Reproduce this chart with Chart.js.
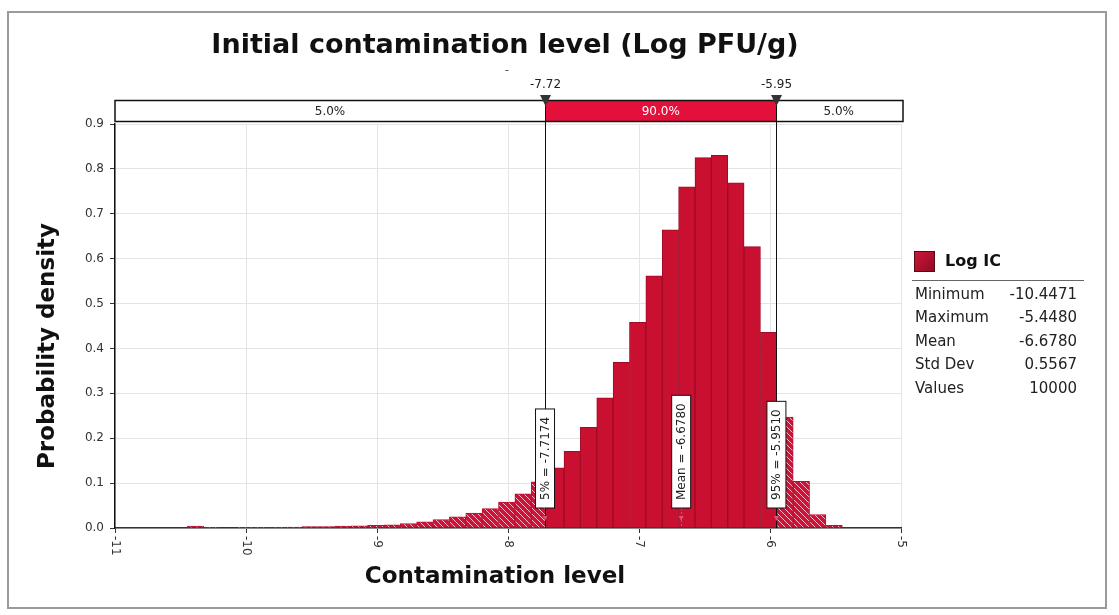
<!DOCTYPE html>
<html>
<head>
<meta charset="utf-8">
<script src="https://cdn.jsdelivr.net/npm/chart.js@4.4.1/dist/chart.umd.min.js"></script>
<style>
  html, body { margin: 0; padding: 0; background: #fff; }
  canvas { display: block; }
</style>
</head>
<body>
<canvas id="chart" width="1119" height="615"></canvas>
<script>
// histogram of Log IC, 40 bins between min and max
const binMin = -10.4471;
const binMax = -5.4480;
const density = [
  0.004, 0.0008, 0, 0.0008, 0.0008, 0.0008, 0.002, 0.003, 0.003, 0.004,
  0.005, 0.006, 0.007, 0.010, 0.014, 0.019, 0.025, 0.033, 0.043, 0.058,
  0.076, 0.103, 0.134, 0.171, 0.224, 0.290, 0.369, 0.458, 0.562, 0.664,
  0.760, 0.825, 0.830, 0.769, 0.627, 0.436, 0.247, 0.104, 0.030, 0.006
];
const xTicks = [-11, -10, -9, -8, -7, -6, -5];
const yTicks = [0, 0.1, 0.2, 0.3, 0.4, 0.5, 0.6, 0.7, 0.8, 0.9];

const pct5 = -7.7174;
const pct95 = -5.9510;
const meanVal = -6.6780;
const bandLabels = ['5.0%', '90.0%', '5.0%'];

const seriesName = 'Log IC';
const statLabels = ['Minimum', 'Maximum', 'Mean', 'Std Dev', 'Values'];
const statValues = ['-10.4471', '-5.4480', '-6.6780', '0.5567', '10000'];

const chartTitle = 'Initial contamination level (Log PFU/g)';
const xTitle = 'Contamination level';
const yTitle = 'Probability density';

const FONT = '"DejaVu Sans", Verdana, sans-serif';

const binWidth = (binMax - binMin) / density.length;
const points = density.map((d, i) => ({ x: binMin + binWidth * (i + 0.5), y: d }));

// diagonal hatch used for the tails
function makeHatch() {
  const c = document.createElement('canvas');
  c.width = 6; c.height = 6;
  const g = c.getContext('2d');
  g.fillStyle = '#cc143a';
  g.fillRect(0, 0, 6, 6);
  g.strokeStyle = 'rgba(255,200,210,0.9)';
  g.lineWidth = 1;
  g.beginPath();
  for (const k of [-6, 0, 6]) {
    g.moveTo(0, k);
    g.lineTo(6, 6 + k);
  }
  g.stroke();
  return g.createPattern(c, 'repeat');
}

function valueTag(ctx, px, text, bottom) {
  ctx.font = '12px ' + FONT;
  const w = ctx.measureText(text).width + 16;
  ctx.fillStyle = '#fff';
  ctx.fillRect(px - 9.5, bottom - w, 19, w);
  ctx.strokeStyle = '#111';
  ctx.lineWidth = 1;
  ctx.strokeRect(px - 9.5, bottom - w, 19, w);
  ctx.save();
  ctx.translate(px + 0.5, bottom - w / 2);
  ctx.rotate(-Math.PI / 2);
  ctx.fillStyle = '#222';
  ctx.textAlign = 'center';
  ctx.textBaseline = 'middle';
  ctx.fillText(text, 0, 0);
  ctx.restore();
}

const overlay = {
  id: 'overlay',
  beforeDraw(chart) {
    const ctx = chart.ctx;
    ctx.save();
    ctx.fillStyle = '#fff';
    ctx.fillRect(0, 0, chart.width, chart.height);
    ctx.restore();
  },
  beforeDatasetDraw(chart, args) {
    const { ctx, chartArea: a, scales: { x } } = chart;
    const x5 = x.getPixelForValue(pct5);
    const x95 = x.getPixelForValue(pct95);
    ctx.save();
    ctx.beginPath();
    if (args.index === 0) {
      ctx.rect(a.left, a.top - 5, x5 - a.left, a.height + 5);
      ctx.rect(x95, a.top - 5, a.right - x95, a.height + 5);
    } else {
      ctx.rect(x5, a.top - 5, x95 - x5, a.height + 5);
    }
    ctx.clip();
  },
  afterDatasetDraw(chart) {
    chart.ctx.restore();
  },
  afterDraw(chart) {
    const { ctx, chartArea: a, scales: { x } } = chart;
    const x5 = x.getPixelForValue(pct5);
    const x95 = x.getPixelForValue(pct95);
    const xm = x.getPixelForValue(meanVal);
    ctx.save();

    // outer frame
    ctx.strokeStyle = '#9a9a9a';
    ctx.lineWidth = 2;
    ctx.strokeRect(8, 12, 1098, 596);

    // title
    ctx.fillStyle = '#111';
    ctx.font = 'bold 27px ' + FONT;
    ctx.textAlign = 'center';
    ctx.textBaseline = 'middle';
    ctx.fillText(chartTitle, 505, 46);
    ctx.font = '12px ' + FONT;
    ctx.fillStyle = '#555';
    ctx.fillText('-', 507, 71);

    // percentile band
    const bTop = 100.5, bBot = 121.5;
    ctx.fillStyle = '#e3103c';
    ctx.fillRect(x5, bTop, x95 - x5, bBot - bTop);
    ctx.strokeStyle = '#111';
    ctx.lineWidth = 1.5;
    ctx.strokeRect(a.left, bTop, a.right - a.left + 2, bBot - bTop);
    ctx.font = '12px ' + FONT;
    ctx.fillStyle = '#222';
    ctx.fillText(bandLabels[0], (a.left + x5) / 2, 111.5);
    ctx.fillText(bandLabels[2], (x95 + a.right) / 2, 111.5);
    ctx.fillStyle = '#fff';
    ctx.fillText(bandLabels[1], (x5 + x95) / 2, 111.5);

    // percentile lines, markers and values
    ctx.strokeStyle = '#111';
    ctx.lineWidth = 1;
    for (const [px, v] of [[x5, pct5], [x95, pct95]]) {
      const lx = Math.round(px) + 0.5;
      ctx.beginPath();
      ctx.moveTo(lx, bTop);
      ctx.lineTo(lx, a.bottom);
      ctx.stroke();
      ctx.fillStyle = '#333';
      ctx.beginPath();
      ctx.moveTo(lx - 5.5, 95);
      ctx.lineTo(lx + 5.5, 95);
      ctx.lineTo(lx, 106);
      ctx.closePath();
      ctx.fill();
      ctx.fillStyle = '#222';
      ctx.font = '12px ' + FONT;
      ctx.fillText(v.toFixed(2), lx, 85);
    }

    // small connectors under the value tags
    ctx.strokeStyle = '#777';
    ctx.setLineDash([2, 2]);
    ctx.beginPath();
    ctx.moveTo(Math.round(xm) + 0.5, 508);
    ctx.lineTo(Math.round(xm) + 0.5, a.bottom);
    ctx.stroke();
    ctx.setLineDash([]);
    ctx.fillStyle = '#e05070';
    for (const px of [x5, xm, x95]) {
      ctx.beginPath();
      ctx.moveTo(px - 2.5, 516);
      ctx.lineTo(px + 2.5, 516);
      ctx.lineTo(px, 521);
      ctx.closePath();
      ctx.fill();
    }

    valueTag(ctx, x5, '5% = ' + pct5.toFixed(4), 508);
    valueTag(ctx, xm, 'Mean = ' + meanVal.toFixed(4), 508);
    valueTag(ctx, x95, '95% = ' + pct95.toFixed(4), 508);

    // x tick labels, rotated
    ctx.fillStyle = '#333';
    ctx.font = '12px ' + FONT;
    ctx.textAlign = 'left';
    ctx.textBaseline = 'middle';
    for (const t of xTicks) {
      ctx.save();
      ctx.translate(x.getPixelForValue(t), a.bottom + 8);
      ctx.rotate(Math.PI / 2);
      ctx.fillText(String(t), 0, 0);
      ctx.restore();
    }

    // axis titles
    ctx.fillStyle = '#111';
    ctx.textAlign = 'center';
    ctx.font = 'bold 23px ' + FONT;
    ctx.fillText(xTitle, 495, 577);
    ctx.save();
    ctx.translate(48, 346);
    ctx.rotate(-Math.PI / 2);
    ctx.font = 'bold 23px ' + FONT;
    ctx.fillText(yTitle, 0, 0);
    ctx.restore();

    // legend with stats
    const grad = ctx.createLinearGradient(914, 250, 936, 272);
    grad.addColorStop(0, '#d0183c');
    grad.addColorStop(1, '#8c0a22');
    ctx.fillStyle = grad;
    ctx.fillRect(914, 251, 21, 21);
    ctx.strokeStyle = '#5a0814';
    ctx.lineWidth = 1;
    ctx.strokeRect(914.5, 251.5, 20, 20);
    ctx.fillStyle = '#111';
    ctx.textAlign = 'left';
    ctx.font = 'bold 16px ' + FONT;
    ctx.fillText(seriesName, 945, 262);
    ctx.strokeStyle = '#666';
    ctx.beginPath();
    ctx.moveTo(912, 280.5);
    ctx.lineTo(1084, 280.5);
    ctx.stroke();
    ctx.font = '15px ' + FONT;
    ctx.fillStyle = '#222';
    statLabels.forEach((lab, i) => {
      const y = 295 + i * 23.5;
      ctx.textAlign = 'left';
      ctx.fillText(lab, 915, y);
      ctx.textAlign = 'right';
      ctx.fillText(statValues[i], 1077, y);
    });

    ctx.restore();
  }
};

const hatch = makeHatch();

new Chart(document.getElementById('chart'), {
  type: 'bar',
  data: {
    datasets: [
      {
        label: seriesName,
        data: points,
        backgroundColor: hatch,
        borderColor: '#b8102f',
        borderWidth: 1,
        grouped: false,
        barPercentage: 1,
        categoryPercentage: 1
      },
      {
        label: seriesName,
        data: points,
        backgroundColor: '#ca1030',
        borderColor: '#a00a27',
        borderWidth: 1,
        grouped: false,
        barPercentage: 1,
        categoryPercentage: 1
      }
    ]
  },
  options: {
    responsive: false,
    animation: false,
    layout: { padding: { left: 0, right: 218, top: 124, bottom: 47 } },
    plugins: {
      legend: { display: false },
      title: { display: false },
      tooltip: { enabled: false }
    },
    scales: {
      x: {
        type: 'linear',
        min: xTicks[0],
        max: xTicks[xTicks.length - 1],
        offset: false,
        afterBuildTicks: (s) => { s.ticks = xTicks.map(v => ({ value: v })); },
        afterFit: (s) => { s.height = 40; },
        ticks: { display: false },
        grid: { color: '#e4e4e4', offset: false, tickLength: 5, tickColor: '#333' },
        border: { color: '#333', width: 1.5 }
      },
      y: {
        min: 0,
        max: 0.9,
        afterBuildTicks: (s) => { s.ticks = yTicks.map(v => ({ value: v })); },
        afterFit: (s) => { s.width = 115; },
        ticks: {
          padding: 6,
          color: '#333',
          font: { family: FONT, size: 12 },
          callback: (v) => Number(v).toFixed(1)
        },
        grid: { color: '#e4e4e4', tickLength: 5, tickColor: '#333' },
        border: { color: '#111', width: 1.5 }
      }
    }
  },
  plugins: [overlay]
});
</script>
</body>
</html>
